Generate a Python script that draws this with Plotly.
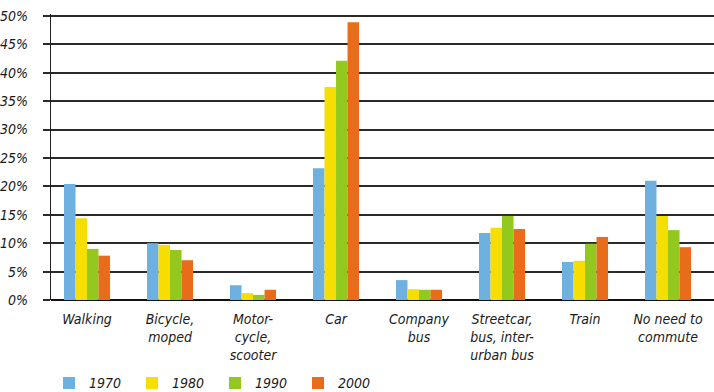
import plotly.graph_objects as go

categories = ["Walking", "Bicycle,<br>moped", "Motor-<br>cycle,<br>scooter", "Car",
              "Company<br>bus", "Streetcar,<br>bus, inter-<br>urban bus", "Train",
              "No need to<br>commute"]
years = ["1970", "1980", "1990", "2000"]
v1970 = [20.4, 10.0, 2.6, 23.2, 3.5, 11.8, 6.7, 21.0]
v1980 = [14.4, 9.7, 1.2, 37.5, 1.9, 12.7, 6.9, 14.8]
v1990 = [9.0, 8.8, 0.9, 42.1, 1.8, 14.8, 9.9, 12.3]
v2000 = [7.8, 7.0, 1.8, 48.9, 1.8, 12.5, 11.1, 9.3]
series = [v1970, v1980, v1990, v2000]
colors = ["#6EB1E1", "#F5DE00", "#93C91E", "#E86C1A"]
yticks = [0, 5, 10, 15, 20, 25, 30, 35, 40, 45, 50]
ytext = [f"{t}%" for t in yticks]

FONT = "Liberation Sans Narrow, DejaVu Sans Condensed, Arial Narrow, sans-serif"

fig = go.Figure()
for name, vals, col in zip(years, series, colors):
    fig.add_trace(go.Bar(
        x=list(range(len(categories))), y=vals, name=name,
        marker=dict(color=col, line=dict(width=0)),
    ))

fig.update_layout(
    width=714, height=392,
    margin=dict(l=51, r=0, t=14, b=92, autoexpand=False),
    paper_bgcolor="white", plot_bgcolor="white",
    barmode="group", bargap=0.445, bargroupgap=0,
    font=dict(family=FONT, size=14, color="#1a1a1a"),
    showlegend=True,
    legend=dict(orientation="h", x=-0.003, xref="paper", xanchor="left",
                y=0.022, yref="container", yanchor="middle",
                entrywidth=38, entrywidthmode="pixels",
                font=dict(family=FONT, size=14, color="#1a1a1a", style="italic"),
                itemsizing="constant", traceorder="normal"),
)
fig.update_xaxes(
    range=[-0.434, 7.554], tickmode="array",
    tickvals=list(range(len(categories))), ticktext=categories,
    tickfont=dict(family=FONT, size=14, color="#1a1a1a", style="italic"),
    showgrid=False, zeroline=False, showline=False, ticks="",
    ticklabelstandoff=9,
)
fig.update_yaxes(
    range=[0, 50.35], tickmode="array", tickvals=yticks, ticktext=ytext,
    tickfont=dict(family=FONT, size=14, color="#1a1a1a", style="italic"),
    showgrid=True, gridcolor="#2a2a2a", gridwidth=1.5,
    zeroline=True, zerolinecolor="#111", zerolinewidth=1.8,
    showline=True, linecolor="#222", linewidth=1.3,
    ticks="outside", ticklen=7, tickcolor="#2a2a2a", tickwidth=1.5,
    ticklabelstandoff=12,
)

fig.write_html("out.html")
